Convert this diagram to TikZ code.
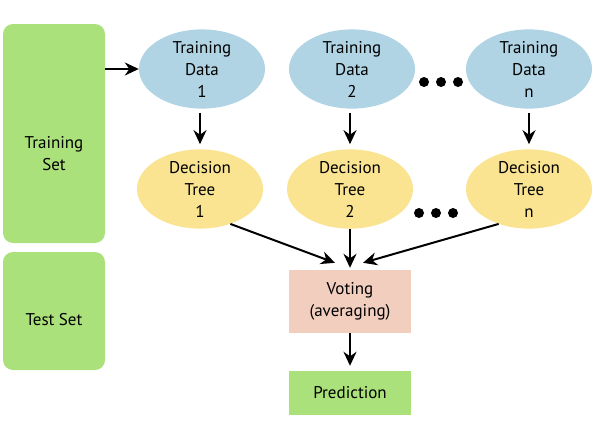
\documentclass[tikz,border=0pt]{standalone}
\usepackage{fontspec}
\setmainfont{PT Sans}
\usetikzlibrary{arrows.meta,positioning,shapes.geometric}
\definecolor{setgreen}{RGB}{170,225,122}
\definecolor{datablue}{RGB}{176,212,228}
\definecolor{treeyellow}{RGB}{250,228,146}
\definecolor{votepink}{RGB}{242,206,190}
\tikzset{
  txt/.style    ={font=\fontsize{17}{22}\selectfont,align=center},
  setbox/.style ={rectangle,fill=setgreen,rounded corners=10pt,minimum width=102pt,inner sep=0pt},
  data/.style   ={ellipse,fill=datablue,minimum width=126pt,minimum height=77pt,inner sep=0pt,txt},
  tree/.style   ={data,fill=treeyellow},
  vote/.style   ={rectangle,fill=votepink,minimum width=122pt,minimum height=63pt,inner sep=0pt,txt},
  pred/.style   ={vote,fill=setgreen,minimum height=44pt},
  flow/.style   ={-{Stealth[length=14pt,width=13pt]},line width=2pt},
}
\begin{document}
\begin{tikzpicture}[x=1pt,y=-1pt]
  \useasboundingbox (0,0) rectangle (612,423);
  % left side: the two sets
  \node[setbox,minimum height=219pt] (trainset) at (54,133.5) {};
  \node[setbox,minimum height=118pt] (testset) at (54,311) {};
  \node[txt] (trainlbl) at (54,154) {Training\\Set};
  \node[txt] (testlbl) at (54,320) {Test Set};
  % bootstrap samples
  \node[data] (td1) at (202,69)  {Training\\Data\\1};
  \node[data] (td2) at (352,69)  {Training\\Data\\2};
  \node[data] (tdn) at (529,69)  {Training\\Data\\n};
  % trees
  \node[tree] (dt1) at (200,189) {Decision\\Tree\\1};
  \node[tree] (dt2) at (350,189) {Decision\\Tree\\2};
  \node[tree] (dtn) at (529,189) {Decision\\Tree\\n};
  % aggregation
  \node[vote] (vote) at (350,301.5) {Voting\\(averaging)};
  \node[pred] (pred) at (350,393) {Prediction};
  % dots
  \foreach \x in {424,441,458} \fill (\x,82) circle (5pt);
  \foreach \x in {419,436,453} \fill (\x,213) circle (5pt);
  % arrows
  \draw[flow] (trainset.east |- td1.west) -- (td1.west);
  \draw[flow,shorten <=4pt,shorten >=5pt] (td1.south -| dt1.south) -- (dt1.north);
  \draw[flow,shorten <=4pt,shorten >=5pt] (td2.south -| dt2.south) -- (dt2.north);
  \draw[flow,shorten <=4pt,shorten >=5pt] (tdn.south) -- (dtn.north);
  \draw[flow] (dt1.-49) -- ([xshift=-15pt,yshift=7pt]vote.north);
  \draw[flow,shorten >=2pt] (dt2.south) -- (vote.north);
  \draw[flow] (dtn.-131) -- ([xshift=13pt,yshift=7pt]vote.north);
  \draw[flow,shorten >=5pt] (vote.south) -- (pred.north);
\end{tikzpicture}
\end{document}
